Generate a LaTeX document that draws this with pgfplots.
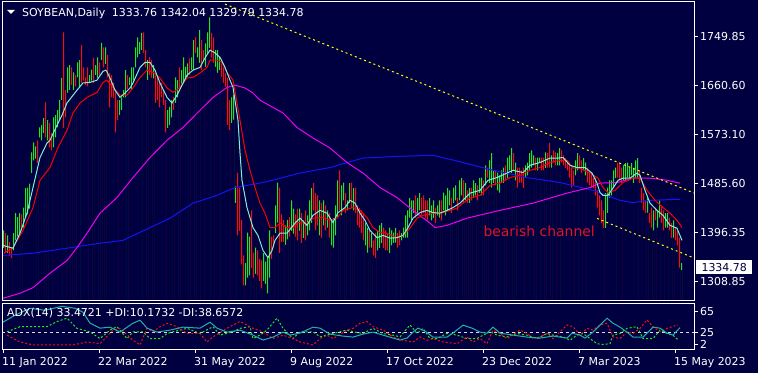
\documentclass[border=0pt]{standalone}
\usepackage{fontspec}
\setmainfont{DejaVu Sans}
\usepackage{pgfplots}
\usepackage{pgfplotstable}
\pgfplotsset{compat=1.18}
\definecolor{bgnavy}{RGB}{0,0,64}
\definecolor{barg}{RGB}{30,235,30}
\definecolor{barr}{RGB}{255,10,10}
\definecolor{macyan}{RGB}{130,240,215}
\definecolor{mared}{RGB}{250,0,0}
\definecolor{mamag}{RGB}{240,0,240}
\definecolor{mablue}{RGB}{20,20,240}
\definecolor{adxteal}{RGB}{32,178,170}
\definecolor{chy}{RGB}{255,255,0}
\definecolor{txtred}{RGB}{220,20,40}

\pgfplotstableread{
i l h
0 1369 1401
2 1360 1392
5 1365 1396
6 1383 1432
7 1390 1425
8 1395 1432
10 1406 1442
11 1424 1477
12 1430 1478
13 1440 1485
14 1504 1541
15 1527 1559
16 1530 1552
18 1568 1586
19 1563 1590
20 1576 1603
22 1563 1599
25 1550 1604
26 1568 1608
27 1586 1617
28 1599 1635
29 1635 1675
32 1648 1694
33 1653 1698
35 1653 1685
37 1676 1703
38 1658 1707
43 1666 1680
44 1670 1690
46 1680 1698
47 1675 1712
49 1707 1738
51 1700 1730
58 1608 1635
59 1617 1640
60 1640 1653
61 1640 1689
63 1662 1676
64 1653 1694
65 1670 1694
66 1694 1730
67 1712 1748
68 1718 1740
69 1725 1756
72 1671 1707
75 1674 1698
82 1585 1617
83 1590 1623
84 1604 1635
86 1630 1676
87 1640 1671
89 1665 1689
90 1666 1712
91 1671 1695
92 1677 1701
94 1689 1712
95 1689 1743
97 1712 1730
98 1702 1761
101 1695 1737
102 1720 1757
103 1729 1784
106 1695 1725
107 1684 1725
108 1689 1713
114 1594 1640
115 1600 1645
116 1450 1480
121 1302 1342
122 1316 1397
123 1320 1390
126 1323 1370
130 1310 1360
131 1305 1345
132 1288 1352
133 1316 1401
136 1396 1446
137 1415 1487
141 1375 1410
142 1385 1420
144 1400 1455
145 1395 1440
148 1400 1440
150 1387 1419
152 1392 1428
153 1401 1455
154 1414 1477
158 1392 1455
160 1410 1455
162 1406 1437
164 1374 1419
165 1370 1423
166 1392 1446
167 1424 1491
169 1428 1482
170 1455 1487
172 1437 1455
173 1450 1486
175 1437 1477
181 1374 1415
182 1361 1406
184 1370 1396
187 1365 1401
188 1369 1410
189 1378 1414
193 1360 1406
194 1374 1401
195 1378 1397
196 1379 1405
199 1383 1396
200 1388 1406
201 1388 1428
202 1388 1437
203 1424 1459
204 1419 1455
205 1432 1455
207 1428 1459
208 1437 1468
213 1428 1459
214 1419 1446
215 1423 1455
217 1428 1446
218 1424 1455
220 1437 1469
221 1428 1464
222 1437 1477
223 1446 1473
225 1450 1478
226 1455 1482
228 1455 1491
229 1464 1495
231 1455 1486
233 1450 1477
235 1460 1491
236 1464 1486
238 1468 1495
239 1464 1496
241 1482 1518
243 1486 1527
244 1478 1540
245 1486 1509
247 1473 1505
248 1469 1500
249 1486 1509
250 1486 1514
252 1495 1532
253 1509 1536
254 1504 1549
256 1491 1523
261 1496 1518
262 1500 1523
263 1509 1540
264 1514 1545
265 1518 1536
267 1509 1532
268 1522 1532
271 1513 1541
274 1514 1536
277 1518 1540
278 1518 1549
286 1500 1527
287 1509 1540
290 1509 1531
291 1500 1523
301 1405 1468
302 1432 1478
303 1460 1491
304 1464 1491
305 1478 1509
306 1495 1514
310 1491 1518
311 1491 1522
312 1496 1523
313 1495 1514
314 1500 1522
315 1486 1514
316 1496 1527
317 1496 1531
322 1433 1460
325 1401 1437
327 1406 1437
328 1424 1455
331 1406 1432
332 1406 1432
335 1388 1419
339 1329.79 1342.04
}\greenbars

\pgfplotstableread{
i l h
1 1362 1396
3 1355 1380
4 1351 1370
9 1400 1430
17 1522 1563
21 1568 1631
23 1550 1594
24 1545 1576
30 1585 1757
31 1604 1653
34 1662 1694
36 1660 1680
39 1666 1734
40 1670 1694
41 1662 1676
42 1660 1694
45 1666 1711
48 1680 1703
50 1694 1730
52 1676 1716
53 1622 1684
54 1640 1680
55 1639 1666
56 1577 1649
57 1599 1635
62 1655 1680
70 1720 1757
71 1694 1725
73 1680 1712
74 1675 1707
76 1630 1684
77 1635 1676
78 1622 1666
79 1640 1666
80 1626 1653
81 1577 1635
85 1617 1641
88 1658 1694
93 1680 1710
96 1720 1748
99 1689 1743
100 1707 1725
104 1712 1756
105 1702 1748
109 1677 1701
110 1666 1694
111 1659 1683
112 1590 1675
113 1581 1635
117 1392 1505
118 1400 1478
119 1340 1420
120 1302 1356
124 1333 1437
125 1316 1361
127 1320 1365
128 1310 1350
129 1297 1347
134 1350 1390
135 1370 1392
138 1360 1478
139 1380 1430
140 1380 1420
143 1390 1425
146 1390 1430
147 1383 1440
149 1378 1432
151 1383 1437
155 1437 1486
156 1401 1468
157 1410 1464
159 1388 1450
161 1401 1446
163 1388 1432
168 1437 1509
171 1432 1468
174 1442 1487
176 1432 1478
177 1410 1446
178 1406 1441
179 1396 1437
180 1383 1432
183 1370 1401
185 1356 1383
186 1351 1396
190 1369 1406
191 1365 1401
192 1365 1396
197 1370 1396
198 1374 1401
206 1424 1464
209 1428 1460
210 1432 1464
211 1424 1455
212 1419 1455
216 1414 1442
219 1419 1455
224 1432 1460
227 1437 1460
230 1450 1491
232 1450 1473
234 1455 1478
237 1455 1482
240 1464 1491
242 1496 1514
246 1482 1509
251 1491 1518
255 1509 1540
257 1478 1514
258 1487 1514
259 1487 1509
260 1477 1514
266 1509 1532
269 1509 1532
270 1509 1532
272 1514 1540
273 1514 1558
275 1522 1545
276 1518 1541
279 1523 1545
280 1518 1536
281 1513 1531
282 1509 1527
283 1496 1518
284 1478 1514
285 1482 1509
288 1513 1536
289 1504 1527
292 1487 1514
293 1482 1505
294 1478 1504
295 1477 1495
296 1464 1496
297 1442 1473
298 1428 1464
299 1414 1455
300 1405 1437
307 1496 1523
308 1491 1522
309 1486 1514
318 1486 1509
319 1450 1478
320 1437 1468
321 1432 1455
323 1414 1432
324 1406 1442
326 1419 1442
329 1414 1446
330 1401 1437
333 1401 1424
334 1387 1414
336 1383 1406
337 1374 1401
338 1334 1388
}\redbars

\pgfplotsset{
  every tick label/.append style={font=\fontsize{11}{13}\selectfont, text=white},
}

\begin{document}
\begin{tikzpicture}
\fill[bgnavy] (0,0) rectangle (758bp,373bp);
\useasboundingbox (0,0) rectangle (758bp,373bp);

\begin{axis}[
  at={(2bp,72.5bp)}, anchor=south west, scale only axis,
  width=692bp, height=298.5bp,
  xmin=-0.5, xmax=345.5, ymin=1275, ymax=1811.5,
  axis line style={white, line width=1bp},
  axis on top,
  xtick=\empty,
  ytick={1308.85,1396.35,1485.60,1573.10,1660.60,1749.85},
  yticklabels={1308.85,1396.35,1485.60,1573.10,1660.60,1749.85},
  ytick pos=right, tick align=outside, major tick length=4bp,
  tick style={white, line width=1bp},
  yticklabel style={anchor=west, inner sep=0pt, xshift=2bp},
  clip mode=individual,
]
% bars: filled columns up to the high, with the part below the low covered in the background colour
\addplot[ybar, bar width=1bp, bar shift=0.5bp, fill=barg, draw=none, forget plot] table[x=i, y=h] {\greenbars};
\addplot[ybar, bar width=1.6bp, bar shift=0.5bp, fill=bgnavy, draw=none, forget plot] table[x=i, y=l] {\greenbars};
\addplot[ybar, bar width=1bp, bar shift=0.5bp, fill=barr, draw=none, forget plot] table[x=i, y=h] {\redbars};
\addplot[ybar, bar width=1.6bp, bar shift=0.5bp, fill=bgnavy, draw=none, forget plot] table[x=i, y=l] {\redbars};

% slow MA (blue)
\addplot[mablue, line width=1bp, mark=none] coordinates {
(0,1356)(15,1360)(32,1369)(48.5,1378)(60,1383)(73.5,1406)(83.5,1423)(95,1450)(107,1464)(116,1478)(130,1487)(148.5,1504)(163.5,1514)(180,1531)(197,1534)(215,1536)(230,1523)(245,1509)(262,1496)(278.5,1487)(295,1473)(308.5,1455)(315,1451)(323.5,1455)(338.5,1457)};
% medium MA (magenta)
\addplot[mamag, line width=1bp, mark=none] coordinates {
(0,1279)(8.5,1288)(15,1298)(23.5,1324)(32,1347)(37,1370)(42,1396)(48.5,1432)(57,1460)(65,1496)(73.5,1532)(82,1563)(90,1586)(98.5,1617)(105,1640)(112,1658)(116,1662)(121,1657)(125,1648)(128.5,1635)(140,1612)(147,1586)(155,1567)(163.5,1549)(172,1523)(180,1504)(188.5,1478)(197,1460)(205,1437)(213.5,1414)(216,1406)(222,1410)(232,1423)(248.5,1437)(265,1450)(282,1468)(293.5,1478)(298.5,1486)(307,1487)(315,1495)(323.5,1495)(332,1491)(338.5,1486)};
% red EMA
\addplot[mared, line width=1bp, mark=none] coordinates {
(0.5,1360)(5,1370)(10,1401)(15,1442)(18.5,1491)(23.5,1514)(27.5,1550)(32,1581)(35,1612)(38.5,1630)(42,1640)(47,1649)(50,1667)(52,1671)(55,1658)(58.5,1644)(62,1644)(65,1657)(68.5,1676)(72,1689)(75,1685)(78.5,1675)(82,1657)(85,1649)(88.5,1658)(92,1675)(95,1676)(98.5,1684)(102,1694)(103.5,1707)(107,1707)(109.5,1703)(112,1685)(115,1671)(118.5,1599)(121,1545)(123.5,1509)(126,1478)(128.5,1450)(131,1432)(133.5,1406)(136,1406)(138.5,1414)(142,1406)(145,1406)(147.5,1415)(152,1414)(155,1423)(160,1424)(163.5,1419)(167,1423)(170,1437)(175,1442)(178.5,1437)(182,1424)(185,1406)(188.5,1397)(192,1396)(197,1388)(200,1392)(203.5,1405)(207,1423)(210,1428)(215,1432)(220,1433)(223.5,1437)(227,1441)(230,1450)(233.5,1459)(238.5,1464)(243.5,1482)(248.5,1486)(253.5,1496)(258.5,1500)(263.5,1509)(268.5,1514)(273.5,1523)(278.5,1527)(282,1527)(285,1513)(288.5,1513)(293.5,1504)(297.5,1495)(300,1478)(302.5,1469)(306,1473)(310,1487)(315,1495)(318.5,1495)(322,1473)(326,1455)(330,1442)(333.5,1432)(337,1419)(339.5,1406)};
% fast EMA (cyan)
\addplot[macyan, line width=1bp, mark=none] coordinates {
(0,1374)(5,1369)(8.5,1396)(12,1432)(15,1478)(18.5,1532)(22,1558)(23.5,1563)(27,1590)(29.5,1608)(32,1630)(37,1653)(40,1666)(43.5,1667)(47,1671)(50,1687)(51.5,1689)(53.5,1675)(56,1653)(58.5,1640)(61,1648)(63.5,1657)(65,1666)(68.5,1694)(71,1703)(73.5,1703)(76,1689)(78.5,1666)(82,1640)(84.5,1630)(87,1644)(89.5,1662)(92,1680)(95,1689)(98.5,1694)(101,1711)(103.5,1725)(106,1720)(108.5,1712)(111,1694)(113.5,1671)(115,1658)(117.5,1599)(118.5,1540)(119.5,1491)(122,1442)(125,1406)(127.5,1392)(130,1365)(132.5,1352)(134.5,1365)(136,1383)(138.5,1396)(142,1396)(146,1414)(148.5,1423)(152,1410)(155,1428)(158.5,1437)(162,1432)(165,1415)(167.5,1433)(171,1442)(173.5,1455)(176,1450)(178.5,1432)(181,1419)(183.5,1401)(187,1388)(190,1392)(193.5,1387)(197,1388)(200,1392)(202.5,1406)(205,1423)(208.5,1433)(212,1437)(215,1433)(218.5,1432)(222,1437)(225,1442)(228.5,1450)(231,1459)(233.5,1468)(238.5,1473)(242.5,1491)(247,1496)(252,1504)(255,1509)(260,1505)(263.5,1518)(268.5,1523)(273.5,1531)(277.5,1531)(280,1532)(283.5,1518)(287,1514)(291,1514)(294.5,1504)(297,1486)(298.5,1469)(300,1464)(302.5,1464)(305,1477)(307.5,1491)(310,1495)(313.5,1495)(317,1504)(318.5,1500)(321,1473)(323.5,1450)(327,1437)(330,1428)(333.5,1410)(337,1405)(339.5,1383)};
% channel
\addplot[chy, line width=1bp, dash pattern=on 2bp off 3bp, mark=none] coordinates {(111,1807.8)(345.5,1468.2)};
\addplot[chy, line width=1bp, dash pattern=on 2bp off 3bp, mark=none] coordinates {(297,1422.6)(345.5,1351.4)};

\node[anchor=base west, inner sep=0pt, text=txtred, font=\fontsize{14}{16}\selectfont] at (axis cs:240.15,1390.7) {bearish channel};
\coordinate (plab) at (axis cs:345.5,1334.78);
\end{axis}

\node[fill=white, text=bgnavy, inner sep=0pt, minimum width=56bp, minimum height=14bp, anchor=west, font=\fontsize{11}{13}\selectfont] at ([xshift=2bp]plab) {1334.78};

\begin{axis}[
  at={(2bp,24bp)}, anchor=south west, scale only axis,
  width=692bp, height=46bp,
  xmin=-0.5, xmax=345.5, ymin=-7.3, ymax=80.7,
  axis line style={white, line width=1bp},
  xtick={0,48,96,144,192,240,288,336},
  xticklabels={11 Jan 2022,22 Mar 2022,31 May 2022,9 Aug 2022,17 Oct 2022,23 Dec 2022,7 Mar 2023,15 May 2023},
  xtick pos=bottom,
  ytick={2,25,65}, yticklabels={2,25,65},
  ytick pos=right, tick align=outside, major tick length=4bp,
  tick style={white, line width=1bp},
  yticklabel style={anchor=west, inner sep=0pt, xshift=2bp},
  xticklabel style={anchor=north west, inner sep=0pt, xshift=-1bp, yshift=-4bp},
  clip mode=individual,
]
\addplot[white!85!bgnavy, line width=0.8bp, dash pattern=on 3bp off 3bp, mark=none] coordinates {(-0.5,25)(345.5,25)};
\addplot[barg, line width=1bp, dash pattern=on 2bp off 2bp, mark=none] coordinates {
(2,25.6)(8.5,35.4)(22,35.4)(27,45.2)(32,51.7)(37,32.2)(43.5,25.6)(48.5,12.6)(53.5,28.9)(57,35.4)(62,12.6)(65,25.6)(70,25.6)(73.5,12.6)(78.5,12.6)(82,22.4)(85,25.6)(92,32.2)(98.5,22.4)(105,35.4)(108.5,19.2)(115,25.6)(118.5,32.2)(123.5,35.4)(125,12.6)(128.5,19.2)(132,28.9)(137,51.7)(140,32.2)(145,12.6)(148.5,25.6)(155,25.6)(158.5,15.9)(165,22.4)(172,28.9)(175,25.6)(180,22.4)(185,32.2)(190,22.4)(195,19.2)(198.5,15.9)(203.5,38.7)(207,22.4)(210,32.2)(213.5,12.6)(217,12.6)(222,22.4)(227,19.2)(232,12.6)(237,12.6)(240,19.2)(243.5,25.6)(247,19.2)(252,15.9)(257,22.4)(262,19.2)(267,12.6)(272,22.4)(275,19.2)(280,15.9)(283.5,9.4)(287,19.2)(290,22.4)(293.5,12.6)(297,2.9)(300,1.3)(303.5,2.9)(305,19.2)(308.5,22.4)(312,32.2)(317,35.4)(320,12.6)(325,12.6)(328.5,28.9)(332,22.4)(335,19.2)(337.5,10.2)};
\addplot[barr, line width=1bp, dash pattern=on 2bp off 2bp, mark=none] coordinates {
(2,19.2)(8.5,6.1)(15,0.5)(22,0.5)(28.5,0.5)(35,0.5)(42,6.1)(48.5,2.9)(55,28.9)(58.5,32.2)(65,9.4)(68.5,0.5)(72,32.2)(75,25.6)(78.5,35.4)(82,42)(87,35.4)(92,22.4)(98.5,22.4)(102,6.1)(105,15.9)(112,32.2)(115,38.7)(118.5,45.2)(122,38.7)(125,32.2)(130,25.6)(135,12.6)(140,19.2)(145,12.6)(148.5,6.1)(155,0.5)(158.5,12.6)(162,19.2)(165,12.6)(172,28.9)(175,32.2)(178.5,42)(182,45.2)(185,35.4)(190,28.9)(195,15.9)(200,9.4)(205,6.1)(208.5,15.9)(212,9.4)(215,12.6)(220,6.1)(227,2.9)(232,15.9)(235,6.1)(238.5,12.6)(242,2.9)(245,28.9)(248.5,22.4)(252,12.6)(258.5,28.9)(262,22.4)(265,12.6)(268.5,15.9)(272,22.4)(275,12.6)(282,38.7)(285,35.4)(288.5,19.2)(292,32.2)(295,28.9)(298.5,38.7)(302,42)(305,15.9)(308.5,12.6)(312,25.6)(315,22.4)(318.5,32.2)(322,48.4)(325,35.4)(328.5,25.6)(332,32.2)(334.5,35.4)(337.5,38.7)};
\addplot[adxteal, line width=1bp, mark=none] coordinates {
(0,44)(6,57.3)(13.5,70.6)(21,66.8)(29.5,74.4)(36,70.6)(40,63)(43.5,42.1)(48.5,32.6)(53.5,34.5)(58.5,25)(65,42.1)(68.5,47.8)(72,32.6)(77,25)(83.5,28.8)(90,34.5)(98.5,32.6)(103.5,44)(107,32.6)(112,25)(118.5,28.8)(125,19.3)(130,9.8)(135,15.5)(140,25)(143.5,19.3)(148.5,23.1)(155,34.5)(158.5,32.6)(163.5,21.2)(170,17.4)(175,15.5)(180,21.2)(185,25)(190,19.3)(195,13.6)(198.5,9.8)(202,13.6)(205,25)(207.5,32.6)(211,26.9)(215,15.5)(222,15.5)(225,23.1)(230,38.3)(234.5,32.6)(238.5,25)(242,23.1)(245,34.5)(248.5,23.1)(255,19.3)(262,15.5)(268.5,13.6)(275,17.4)(282,13.6)(284.5,23.1)(288.5,19.3)(291,13.6)(295,25)(298.5,38.3)(302,51.6)(305,42.1)(308.5,34.5)(312,25)(315,15.5)(320,15.5)(325,34.5)(328.5,32.6)(332,23.1)(335,19.3)(338.5,33.5)};
\end{axis}

% panel captions
\fill[white] (7bp,363bp) -- (15bp,363bp) -- (11bp,359bp) -- cycle;
\node[anchor=base west, inner sep=0pt, text=white, font=\fontsize{11}{13}\selectfont] at (22bp,356.3bp) {SOYBEAN,Daily};
\node[anchor=base west, inner sep=0pt, text=white, font=\fontsize{11}{13}\selectfont] at (111.7bp,356.3bp) {1333.76 1342.04 1329.79 1334.78};
\node[anchor=base west, inner sep=0pt, text=white, font=\fontsize{11}{13}\selectfont] at (7bp,56bp) {ADX(14) 33.4721 +DI:10.1732 -DI:38.6572};
\end{tikzpicture}
\end{document}
